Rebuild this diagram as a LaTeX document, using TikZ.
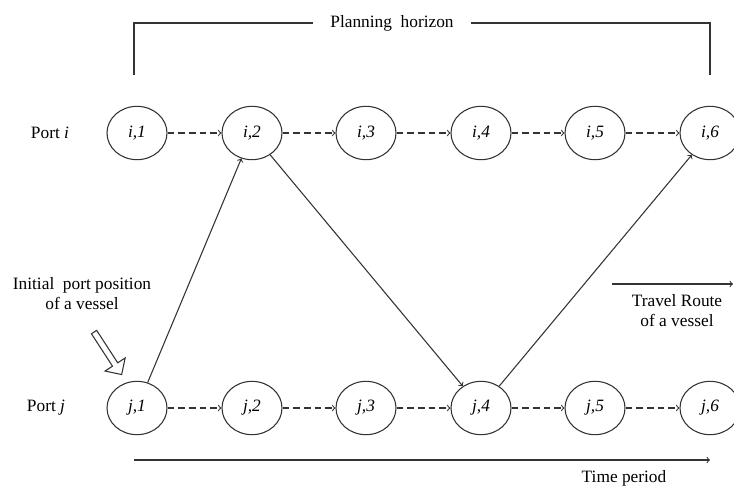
\documentclass[tikz,border=0pt]{standalone}
\usepackage{fontspec}
\setmainfont{Liberation Serif}
\usetikzlibrary{shapes.arrows,shapes.geometric}
\tikzset{
  slot/.style={draw,ellipse,minimum width=45pt,minimum height=40pt,inner sep=0pt,font=\rmfamily\fontsize{13}{15}\selectfont\itshape},
  wait/.style={->,dash pattern=on 5pt off 3pt},
  route/.style={->}
}
\begin{document}
\begin{tikzpicture}[x=0.75pt,y=-0.75pt,font=\rmfamily\fontsize{13}{15}\selectfont,line width=0.8pt,draw=black!80]
\useasboundingbox (0,0) rectangle (734,487);
% time-space nodes
\foreach \t/\x in {1/137,2/252,3/366,4/481,5/595,6/710}{
  \node[slot] (i\t) at (\x,133) {i,\t};
  \node[slot] (j\t) at (\x,408) {j,\t};
}
\foreach \a/\b in {1/2,2/3,3/4,4/5,5/6}{\draw[wait] (i\a)--(i\b);\draw[wait] (j\a)--(j\b);}
\draw[route] (j1)--(i2);\draw[route] (i2)--(j4);\draw[route] (j4)--(i6);
% labels
\node (porti) at (50,133) {Port \textit{i}};\node (portj) at (46,408) {Port \textit{j}};
\node[align=center] (init) at (82,294) {Initial\ \ port position\\of a vessel};
\node[single arrow,draw,rotate=-57,minimum height=38pt,minimum width=18pt,single arrow head extend=4pt,inner sep=1pt] (pos) at (107,352) {};
% planning horizon bracket
\node[inner xsep=13pt] (plan) at (392,23) {Planning\ \ horizon};
\coordinate (pl) at (134,75);\coordinate (pr) at (710,75);
\draw (plan.west) -- (plan.west-|pl) -- (pl);\draw (plan.east) -- (plan.east-|pr) -- (pr);
% travel route and time axes
\coordinate (ra) at (612,284);\coordinate (rb) at (733,284);\draw[route] (ra)--(rb);
\node[align=center] (trav) at (677,311) {Travel Route\\of a vessel};
\coordinate (ta) at (134,460);\coordinate (tb) at (710,460);\draw[route] (ta)--(tb);
\node (time) at (624,478) {Time period};
\end{tikzpicture}
\end{document}
